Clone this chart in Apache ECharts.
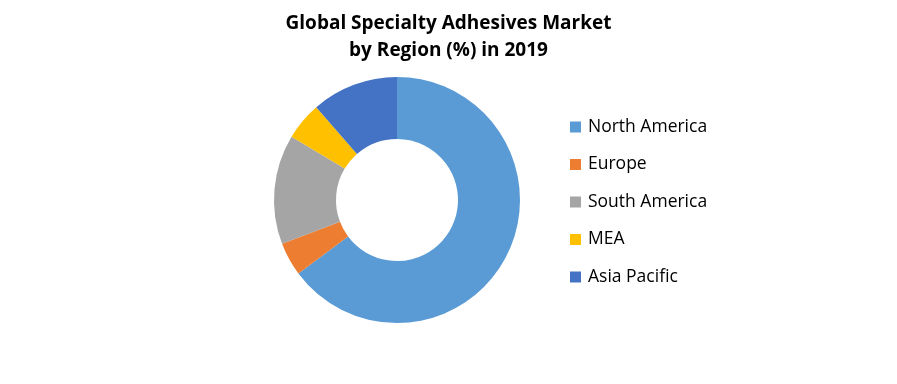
<!DOCTYPE html>
<html>
<head>
<meta charset="utf-8">
<script src="https://cdn.jsdelivr.net/npm/echarts@6/dist/echarts.min.js"></script>
<style>html,body{margin:0;padding:0;background:#fff;}#c{width:897px;height:384px;}</style>
</head>
<body>
<div id="c"></div>
<script>
const titleLines = ['Global Specialty Adhesives Market', 'by Region (%) in 2019'];
const categories = ['North America', 'Europe', 'South America', 'MEA', 'Asia Pacific'];
const values = [64.8, 4.4, 14.4, 5.0, 11.4];
const colors = ['#5B9BD5', '#ED7D31', '#A5A5A5', '#FFC000', '#4472C4'];

const chart = echarts.init(document.getElementById('c'));
chart.setOption({
  animation: false,
  backgroundColor: '#ffffff',
  color: colors,
  title: {
    text: titleLines.join('\n'),
    left: 'center',
    top: 5,
    textStyle: {
      fontFamily: 'Open Sans',
      fontWeight: 'bold',
      fontSize: 19,
      lineHeight: 27,
      color: '#000'
    }
  },
  legend: {
    orient: 'vertical',
    left: 570,
    top: 117,
    padding: 0,
    itemWidth: 11,
    itemHeight: 11,
    itemGap: 17.5,
    icon: 'rect',
    data: categories,
    textStyle: {
      fontFamily: 'Open Sans',
      fontSize: 17.5,
      lineHeight: 20,
      color: '#000',
      padding: [0, 0, 0, 2]
    }
  },
  series: [{
    type: 'pie',
    radius: [61, 123],
    center: [397, 200],
    startAngle: 90,
    clockwise: true,
    label: { show: false },
    labelLine: { show: false },
    emphasis: { disabled: true },
    itemStyle: { borderWidth: 0 },
    data: categories.map((n, i) => ({ name: n, value: values[i] }))
  }]
});
</script>
</body>
</html>
